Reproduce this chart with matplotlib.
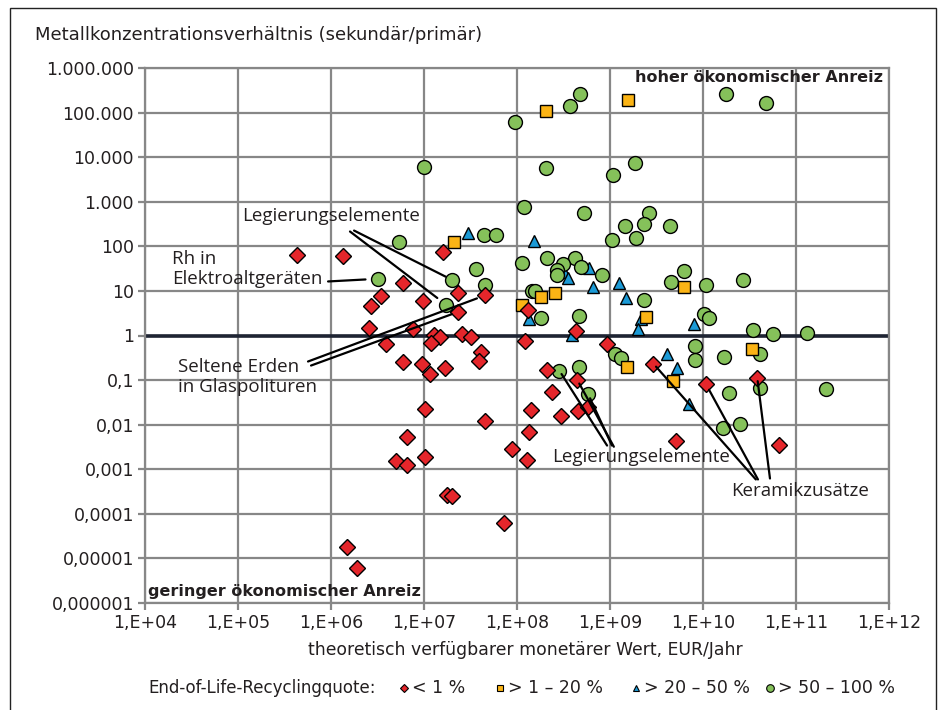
import matplotlib
matplotlib.use("Agg")
import matplotlib.pyplot as plt
from matplotlib.lines import Line2D
from matplotlib.patches import Rectangle
from matplotlib.ticker import FixedLocator, FixedFormatter, NullLocator

# ===============================
# Data: monetary value (EUR/year) vs. concentration ratio (secondary/primary)
# ===============================
low_x = [4.3e5, 1.35e6, 1.6e7, 6.0e6, 3.45e6, 2.67e6, 9.8e6, 2.34e7, 4.5e7, 2.34e7,
         2.56e6, 7.7e6, 1.29e7, 1.49e7, 2.54e7, 3.2e7, 3.9e6, 1.2e7, 1.22e8, 1.32e8,
         4.3e8, 9.2e8, 6.0e6, 9.5e6, 1.16e7, 1.68e7, 4.06e7, 3.9e7, 1.03e7, 4.5e7,
         6.5e6, 5.0e6, 6.5e6, 1.03e7, 8.8e7, 1.4e8, 1.35e8, 1.27e8, 1.77e7, 2.0e7,
         7.2e7, 1.5e6, 1.89e6, 2.08e8, 4.45e8, 2.36e8, 2.95e8, 4.5e8, 5.8e8, 2.92e9,
         1.07e10, 5.1e9, 3.84e10, 6.6e10]
low_y = [65, 62, 73, 14.9, 7.6, 4.5, 6.0, 8.9, 7.9, 3.4,
         1.49, 1.41, 1.03, 0.92, 1.09, 0.92, 0.65, 0.67, 0.77, 3.8,
         1.29, 0.65, 0.26, 0.23, 0.134, 0.185, 0.42, 0.27, 0.022, 0.0124,
         0.0053, 0.00155, 0.00122, 0.00184, 0.0028, 0.021, 0.0068, 0.0016, 0.00027, 0.00025,
         6.1e-5, 1.83e-5, 6.0e-6, 0.17, 0.101, 0.055, 0.0153, 0.0198, 0.0243, 0.235,
         0.083, 0.0043, 0.109, 0.0035]

mid_x = [2.03e8, 1.56e9, 6.2e9, 2.57e8, 1.81e8, 1.12e8, 2.44e9, 3.37e10, 2.1e7, 1.51e9, 4.7e9]
mid_y = [1.1e5, 1.95e5, 12.1, 8.9, 7.2, 4.9, 2.6, 0.50, 128, 0.195, 0.093]

high_x = [3.0e7, 1.54e8, 3.2e8, 3.5e8, 5.9e8, 6.6e8, 1.26e9, 1.47e9, 1.36e8, 3.9e8,
          2.13e9, 2.0e9, 8.1e9, 4.06e9, 5.3e9, 7.0e9]
high_y = [197, 135, 26, 19, 33, 12.1, 14.9, 6.9, 2.37, 1.05,
          2.37, 1.41, 1.83, 0.39, 0.19, 0.029]

top_x = [9.4e7, 3.7e8, 4.8e8, 1.78e10, 4.8e10, 2.03e8, 1.07e9, 1.86e9, 1.0e7, 1.2e8,
         5.25e8, 2.65e9, 2.34e9, 1.46e9, 4.4e9, 1.05e9, 1.92e9, 4.4e7, 5.9e7, 5.4e6,
         1.12e8, 2.08e8, 4.2e8, 3.1e8, 2.7e8, 2.7e8, 4.84e8, 8.3e8, 6.3e9, 4.5e9,
         1.09e10, 2.7e10, 1.46e8, 1.56e8, 4.5e7, 3.6e7, 2.0e7, 3.2e6, 1.73e7, 2.32e9,
         1.8e8, 4.68e8, 1.03e10, 1.17e10, 3.42e10, 5.6e10, 1.32e11, 8.2e9, 8.2e9, 4.1e10,
         1.14e9, 1.31e9, 1.7e10, 2.85e8, 4.65e8, 5.85e8, 1.9e10, 4.1e10, 2.08e11, 1.64e10,
         2.48e10]
top_y = [6.3e4, 1.44e5, 2.6e5, 2.6e5, 1.6e5, 5600, 3900, 7400, 6150, 753,
         564, 552, 319, 282, 282, 142, 150, 181, 184, 128,
         42.7, 54, 54, 40.5, 29.7, 23.3, 34, 23.3, 28.7, 16,
         13.7, 17.4, 10.2, 10.2, 13.7, 31, 17.7, 18.7, 4.9, 6.2,
         2.5, 2.67, 3.06, 2.44, 1.36, 1.09, 1.13, 0.575, 0.285, 0.375,
         0.375, 0.316, 0.33, 0.164, 0.195, 0.0475, 0.051, 0.068, 0.0615, 0.0085,
         0.0101]

series_labels = ["< 1 %", "> 1 – 20 %", "> 20 – 50 %", "> 50 – 100 %"]

x_ticks = [1e4, 1e5, 1e6, 1e7, 1e8, 1e9, 1e10, 1e11, 1e12]
x_tick_labels = ["1,E+04", "1,E+05", "1,E+06", "1,E+07", "1,E+08",
                 "1,E+09", "1,E+10", "1,E+11", "1,E+12"]
y_ticks = [1e-6, 1e-5, 1e-4, 1e-3, 1e-2, 1e-1, 1, 10, 100, 1e3, 1e4, 1e5, 1e6]
y_tick_labels = ["0,000001", "0,00001", "0,0001", "0,001", "0,01", "0,1", "1",
                 "10", "100", "1.000", "10.000", "100.000", "1.000.000"]

# ===============================
# Styles
# ===============================
COND = ["DejaVu Sans"]
REG = ["Open Sans", "DejaVu Sans"]
GRID = "#878787"
TXT = "#231f20"

styles = [
    dict(marker="D", color="#e5262b", ms=7.8),
    dict(marker="s", color="#fbb415", ms=9),
    dict(marker="^", color="#1b9ad6", ms=9),
    dict(marker="o", color="#85c15a", ms=10),
]

fig = plt.figure(figsize=(9.42, 7.10), dpi=100)
ax = fig.add_axes([145 / 942, 1 - 603 / 710, 744 / 942, 535 / 710])
ax.set_xscale("log")
ax.set_yscale("log")
ax.set_xlim(1e4, 1e12)
ax.set_ylim(1e-6, 1e6)

ax.xaxis.set_major_locator(FixedLocator(x_ticks))
ax.xaxis.set_major_formatter(FixedFormatter(x_tick_labels))
ax.yaxis.set_major_locator(FixedLocator(y_ticks))
ax.yaxis.set_major_formatter(FixedFormatter(y_tick_labels))
ax.xaxis.set_minor_locator(NullLocator())
ax.yaxis.set_minor_locator(NullLocator())

ax.grid(True, color=GRID, lw=1.6, zorder=0)
ax.set_axisbelow(True)
for sp in ax.spines.values():
    sp.set_color(GRID)
    sp.set_linewidth(1.6)
ax.tick_params(length=5, width=1.6, color=GRID, pad=3, labelsize=12.5, labelcolor=TXT)
for lab in ax.get_xticklabels() + ax.get_yticklabels():
    lab.set_family(COND)

# reference line at ratio 1
ax.axhline(1, color="#1e2433", lw=2.6, zorder=1)

all_x = [low_x, mid_x, high_x, top_x]
all_y = [low_y, mid_y, high_y, top_y]
zorders = [6, 5, 3, 4]
for xs, ys, st, z in zip(all_x, all_y, styles, zorders):
    ax.plot(xs, ys, ls="none", marker=st["marker"], ms=st["ms"],
            markerfacecolor=st["color"], markeredgecolor="black",
            markeredgewidth=1.0, zorder=z)

# ===============================
# Annotations
# ===============================
ax.text(0.992, 0.983, "hoher ökonomischer Anreiz", transform=ax.transAxes,
        ha="right", va="center", fontsize=11.5, fontweight="bold", family=COND, color=TXT)
ax.text(0.004, 0.022, "geringer ökonomischer Anreiz", transform=ax.transAxes,
        ha="left", va="center", fontsize=11.5, fontweight="bold", family=COND, color=TXT)

ann_kw = dict(fontsize=13.5, family=REG, color=TXT, zorder=7)
ax.text(1.1e5, 490, "Legierungselemente", ha="left", va="center", **ann_kw)
ax.text(1.95e4, 31, "Rh in\nElektroaltgeräten", ha="left", va="center",
        linespacing=1.15, **ann_kw)
ax.text(2.27e4, 0.12, "Seltene Erden\nin Glaspolituren", ha="left", va="center",
        linespacing=1.15, **ann_kw)
ax.text(2.38e8, 1.84e-3, "Legierungselemente", ha="left", va="center", **ann_kw)
ax.text(2.0e10, 3.18e-4, "Keramikzusätze", ha="left", va="center", **ann_kw)


def leader(start, end, shrink_a=0, shrink_b=0):
    ax.annotate("", xy=end, xytext=start,
                arrowprops=dict(arrowstyle="-", color="black", lw=1.6,
                                shrinkA=shrink_a, shrinkB=shrink_b), zorder=7)


# labels on the left pointing at points
leader((1.77e6, 226), (top_x[36], top_y[36]), shrink_b=5)
leader((1.6e6, 215), (top_x[38], top_y[38]), shrink_b=8)
leader((9.3e5, 16.3), (top_x[37], top_y[37]), shrink_b=9)
leader((5.66e5, 0.261), (low_x[8], low_y[8]), shrink_b=6)
leader((6.1e5, 0.212), (low_x[9], low_y[9]), shrink_b=5)
# points pointing down to the lower labels
leader((top_x[53], top_y[53]), (9.3e8, 3.4e-3), shrink_a=3)
leader((low_x[44], low_y[44]), (1.1e9, 3.2e-3), shrink_a=3)
leader((top_x[55], top_y[55]), (1.05e9, 3.4e-3), shrink_a=3)
leader((low_x[49], low_y[49]), (3.7e10, 5.9e-4), shrink_a=3)
leader((low_x[50], low_y[50]), (3.9e10, 5.9e-4), shrink_a=5)
leader((low_x[52], low_y[52]), (5.25e10, 6.2e-4), shrink_a=2)

# ===============================
# Titles, legend, frame
# ===============================
fig.text(35 / 942, 1 - 35 / 710, "Metallkonzentrationsverhältnis (sekundär/primär)",
         ha="left", va="center", fontsize=13, family=COND, color=TXT)
fig.text(525 / 942, 1 - 650 / 710, "theoretisch verfügbarer monetärer Wert, EUR/Jahr",
         ha="center", va="center", fontsize=12.4, family=COND, color=TXT)
fig.text(148 / 942, 1 - 688 / 710, "End-of-Life-Recyclingquote:",
         ha="left", va="center", fontsize=12, family=COND, color=TXT)

# legend entries: small marker followed by its label
legend_marker_x = [404, 500, 636, 770]
for st, lab, px in zip(styles, series_labels, legend_marker_x):
    fig.add_artist(Line2D([px / 942], [1 - 688 / 710], transform=fig.transFigure,
                          ls="none", marker=st["marker"], ms=st["ms"] * 0.55,
                          markerfacecolor=st["color"], markeredgecolor="black",
                          markeredgewidth=0.8))
    fig.text((px + 8) / 942, 1 - 688 / 710, lab, ha="left", va="center",
             fontsize=12.5, family=COND, color=TXT)

fig.add_artist(Rectangle((10 / 942, -0.02), 926 / 942, 1 - 8 / 710 + 0.02,
                         transform=fig.transFigure, fill=False,
                         edgecolor="#222222", lw=1.0))

fig.savefig("out.png", dpi=100)
